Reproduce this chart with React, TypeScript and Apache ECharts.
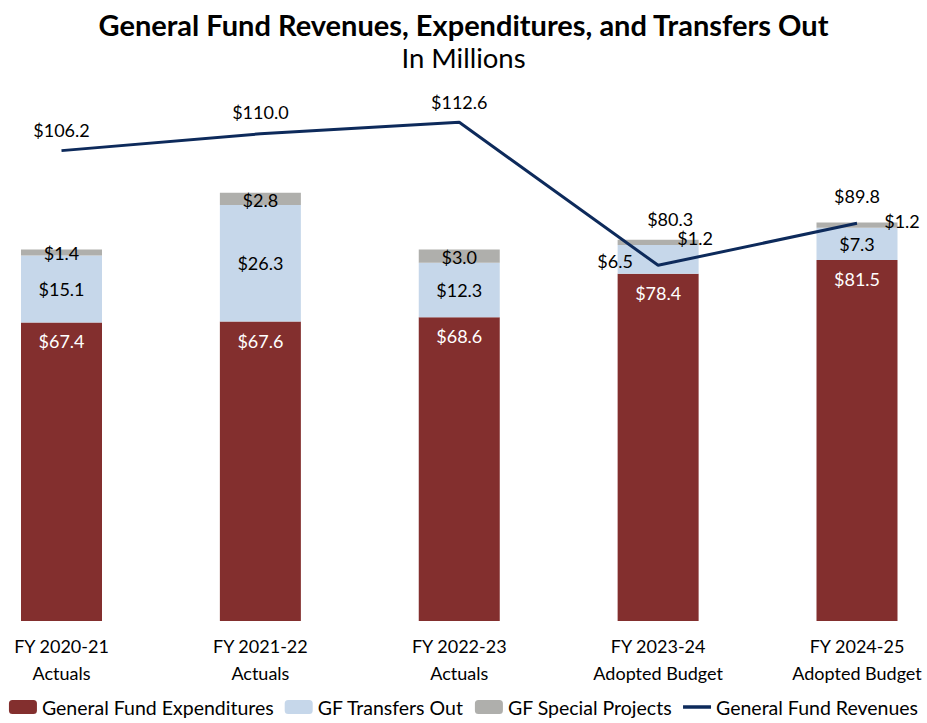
import React, { useEffect, useRef } from "react";
import * as echarts from "echarts";

const categories = [
  "FY 2020-21\nActuals",
  "FY 2021-22\nActuals",
  "FY 2022-23\nActuals",
  "FY 2023-24\nAdopted Budget",
  "FY 2024-25\nAdopted Budget",
];
const expenditures = [67.4, 67.6, 68.6, 78.4, 81.5];
const transfersOut = [15.1, 26.3, 12.3, 6.5, 7.3];
const specialProjects = [1.4, 2.8, 3.0, 1.2, 1.2];
const revenues = [106.2, 110.0, 112.6, 80.3, 89.8];

const FONT = "Lato, 'Open Sans', sans-serif";
const fmt = (v: number) => "$" + v.toFixed(1);

// label offsets (styling only)
const revenueLabelOffsets = [[0, -7], [0, -8], [0, -6], [12, -32], [0, -13]];
const transferLabelOffsets = [[0, 0], [0, 0], [0, 0], [-43, 2], [0, 0]];
const specialLabelOffsets = [[0, 1], [0, 1], [0, 1], [37, -4], [45, -4]];

export default function App() {
  const ref = useRef<HTMLDivElement>(null);
  useEffect(() => {
    if (!ref.current) return;
    const chart = echarts.init(ref.current, null, { renderer: "svg" });
    const labelBase = { fontFamily: FONT, fontSize: 18, color: "#000" };
    chart.setOption({
      animation: false,
      textStyle: { fontFamily: FONT },
      title: [
        {
          text: "General Fund Revenues, Expenditures, and Transfers Out",
          left: "center",
          top: 5,
          textStyle: { fontFamily: FONT, fontSize: 29, fontWeight: "bold", color: "#000" },
        },
        {
          text: "In Millions",
          left: "center",
          top: 38,
          textStyle: { fontFamily: FONT, fontSize: 27.5, fontWeight: "normal", color: "#000" },
        },
      ],
      legend: {
        bottom: 1,
        left: "center",
        itemWidth: 28,
        itemHeight: 14,
        itemGap: 11,
        textStyle: { fontFamily: FONT, fontSize: 19.5, color: "#000" },
        data: [
          { name: "General Fund Expenditures" },
          { name: "GF Transfers Out" },
          { name: "GF Special Projects" },
          {
            name: "General Fund Revenues",
            icon: "path://M0,0 L28,0 L28,3.5 L0,3.5 Z",
            itemStyle: { color: "#0d2a5b" },
          },
        ],
      },
      grid: { left: 61.5, right: 70, top: 89.5, bottom: 102 },
      xAxis: {
        type: "category",
        data: categories,
        boundaryGap: false,
        axisLine: { show: false },
        axisTick: { show: false },
        axisLabel: {
          interval: 0,
          fontFamily: FONT,
          fontSize: 18,
          color: "#000",
          lineHeight: 27,
          margin: 11,
        },
      },
      yAxis: {
        type: "value",
        min: 0,
        max: 120,
        show: false,
        splitLine: { show: false },
      },
      series: [
        {
          name: "General Fund Expenditures",
          type: "bar",
          stack: "total",
          barWidth: 81,
          clip: false,
          itemStyle: { color: "#832f2e" },
          label: {
            show: true,
            position: "insideTop",
            distance: 10,
            ...labelBase,
            color: "#fff",
            formatter: (p: any) => fmt(p.value),
          },
          data: expenditures,
        },
        {
          name: "GF Transfers Out",
          type: "bar",
          stack: "total",
          barWidth: 81,
          clip: false,
          itemStyle: { color: "#c6d7ea" },
          label: { show: true, position: "inside", ...labelBase, formatter: (p: any) => fmt(p.value) },
          data: transfersOut.map((v, i) => ({ value: v, label: { offset: transferLabelOffsets[i] } })),
        },
        {
          name: "GF Special Projects",
          type: "bar",
          stack: "total",
          barWidth: 81,
          clip: false,
          itemStyle: { color: "#afafac" },
          label: { show: true, position: "inside", ...labelBase, formatter: (p: any) => fmt(p.value) },
          data: specialProjects.map((v, i) => ({ value: v, label: { offset: specialLabelOffsets[i] } })),
        },
        {
          name: "General Fund Revenues",
          type: "line",
          symbol: "none",
          clip: false,
          z: 5,
          lineStyle: { color: "#0d2a5b", width: 3 },
          itemStyle: { color: "#0d2a5b" },
          data: revenues,
        },
        {
          name: "Revenue Labels",
          type: "scatter",
          symbolSize: 0,
          clip: false,
          silent: true,
          z: 6,
          itemStyle: { color: "#000", opacity: 1 },
          label: {
            show: true,
            position: "top",
            distance: 5,
            ...labelBase,
            opacity: 1,
            textBorderWidth: 0,
            formatter: (p: any) => fmt(p.value),
          },
          data: revenues.map((v, i) => ({ value: v, label: { offset: revenueLabelOffsets[i] } })),
        },
      ],
    });
    return () => chart.dispose();
  }, []);
  return (
    <div
      ref={ref}
      style={{ position: "fixed", left: 0, top: 0, width: 927, height: 723, background: "#fff" }}
    />
  );
}
